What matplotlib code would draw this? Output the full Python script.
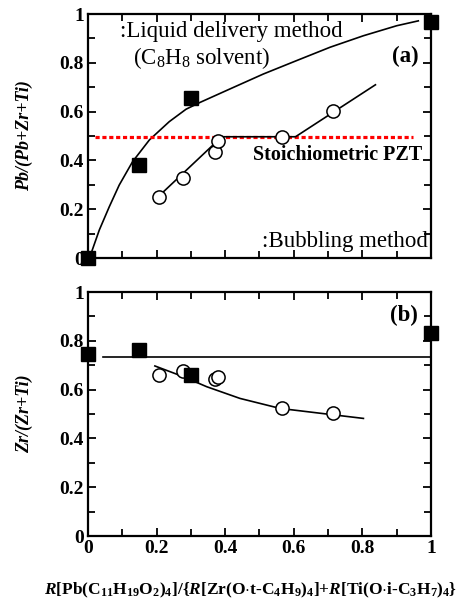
import matplotlib
matplotlib.use("Agg")
import matplotlib.pyplot as plt
from matplotlib.ticker import MultipleLocator, FuncFormatter

plt.rcParams['font.family'] = ['Liberation Serif', 'DejaVu Serif']
plt.rcParams['mathtext.fontset'] = 'custom'
plt.rcParams['mathtext.it'] = 'Liberation Serif:bold:italic'
plt.rcParams['mathtext.rm'] = 'Liberation Serif:bold'
plt.rcParams['mathtext.bf'] = 'Liberation Serif:bold'

# (a) Pb/(Pb+Zr+Ti)
liq_x = [0.0, 0.15, 0.30, 1.0]
liq_pb = [0.0, 0.38, 0.657, 0.968]
bub_x = [0.206, 0.276, 0.371, 0.380, 0.566, 0.714]
bub_pb = [0.25, 0.329, 0.436, 0.481, 0.495, 0.604]

# guide curves
liq_fit_x = [0.0, 0.009, 0.033, 0.062, 0.091, 0.130, 0.179, 0.237, 0.286, 0.327,
             0.414, 0.511, 0.608, 0.706, 0.803, 0.900, 0.963]
liq_fit_pb = [0.0, 0.019, 0.115, 0.210, 0.299, 0.395, 0.484, 0.559, 0.610, 0.638,
              0.693, 0.754, 0.809, 0.864, 0.911, 0.952, 0.972]
bub_fit_x = [0.20, 0.39, 0.605, 0.838]
bub_fit_pb = [0.245, 0.497, 0.497, 0.71]

stoich_pb = 0.495
stoich_span = [0.02, 0.948]

# (b) Zr/(Zr+Ti)
liq_zr = [0.745, 0.762, 0.66, 0.832]
bub_zr = [0.66, 0.676, 0.642, 0.653, 0.526, 0.503]
liq_zr_line_x = [0.045, 1.0]
liq_zr_line = [0.733, 0.733]
bub_fit_zr_x = [0.195, 0.278, 0.346, 0.443, 0.560, 0.696, 0.803]
bub_fit_zr = [0.697, 0.653, 0.612, 0.564, 0.523, 0.500, 0.482]

fig = plt.figure(figsize=(4.61, 6.02), dpi=100)
ax1 = fig.add_axes([0.1909, 0.5714, 0.744, 0.4053])
ax2 = fig.add_axes([0.1909, 0.1096, 0.744, 0.4053])

fmt = FuncFormatter(lambda v, p: '%d' % v if abs(v - round(v)) < 1e-9 else '%.1f' % v)

for ax in (ax1, ax2):
    ax.set_xlim(0, 1)
    ax.set_ylim(0, 1)
    ax.xaxis.set_major_locator(MultipleLocator(0.2))
    ax.xaxis.set_minor_locator(MultipleLocator(0.1))
    ax.yaxis.set_major_locator(MultipleLocator(0.2))
    ax.yaxis.set_minor_locator(MultipleLocator(0.1))
    ax.tick_params(which='both', direction='in', top=True, right=True, width=1.3)
    ax.tick_params(which='major', length=6, labelsize=14, pad=3)
    ax.tick_params(which='minor', length=5)
    ax.xaxis.set_major_formatter(fmt)
    ax.yaxis.set_major_formatter(fmt)
    for t in ax.get_xticklabels() + ax.get_yticklabels():
        t.set_fontweight('bold')
    for s in ax.spines.values():
        s.set_linewidth(1.6)

ax1.tick_params(labelbottom=False)

# panel (a)
ax1.plot(liq_fit_x, liq_fit_pb, color='black', lw=1.2)
ax1.plot(stoich_span, [stoich_pb, stoich_pb], color='red', lw=2.3, linestyle=(0, (1.3, 0.85)))
ax1.plot(bub_fit_x, bub_fit_pb, color='black', lw=1.2)
ax1.plot(bub_x, bub_pb, 'o', mfc='white', mec='black', mew=1.1, ms=9.5, clip_on=False, zorder=4)
ax1.plot(liq_x, liq_pb, 's', color='black', ms=9.5, clip_on=False, zorder=5)

ax1.text(0.093, 0.93, ':Liquid delivery method', fontsize=16.5, va='center', ha='left')
ax1.text(0.131, 0.82, r'(C$_\mathregular{8}$H$_\mathregular{8}$ solvent)', fontsize=16.5,
         va='center', ha='left')
ax1.text(0.963, 0.825, '(a)', fontsize=16.5, fontweight='bold', va='center', ha='right')
ax1.text(0.973, 0.422, 'Stoichiometric PZT', fontsize=14.5, fontweight='bold', va='center', ha='right')
ax1.text(0.506, 0.067, ':Bubbling method', fontsize=16.5, va='center', ha='left')
ax1.set_ylabel('Pb/(Pb+Zr+Ti)', fontsize=13, fontweight='bold', fontstyle='italic')
ax1.yaxis.set_label_coords(-0.16, 0.5)

# panel (b)
ax2.plot(liq_zr_line_x, liq_zr_line, color='black', lw=1.2)
ax2.plot(bub_fit_zr_x, bub_fit_zr, color='black', lw=1.2)
ax2.plot(bub_x, bub_zr, 'o', mfc='white', mec='black', mew=1.1, ms=9.5, clip_on=False, zorder=4)
ax2.plot(liq_x, liq_zr, 's', color='black', ms=9.5, clip_on=False, zorder=5)
ax2.text(0.963, 0.906, '(b)', fontsize=16.5, fontweight='bold', va='center', ha='right')
ax2.set_ylabel('Zr/(Zr+Ti)', fontsize=13, fontweight='bold', fontstyle='italic')
ax2.yaxis.set_label_coords(-0.16, 0.5)

fig.text(251 / 461, 1 - 590 / 602,
         r'$\mathit{R}$[Pb(C$_\mathregular{11}$H$_\mathregular{19}$O$_\mathregular{2}$)$_\mathregular{4}$]'
         r'/{$\mathit{R}$[Zr(O$\cdot$t-C$_\mathregular{4}$H$_\mathregular{9}$)$_\mathregular{4}$]'
         r'+$\mathit{R}$[Ti(O$\cdot$i-C$_\mathregular{3}$H$_\mathregular{7}$)$_\mathregular{4}$}',
         fontsize=12.5, fontweight='bold', ha='center', va='center')

fig.savefig('out.png', dpi=100)
